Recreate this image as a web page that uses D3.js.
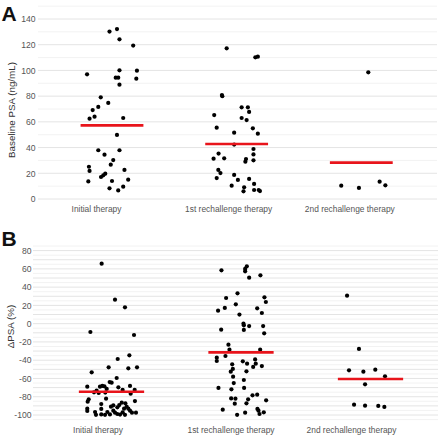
<!DOCTYPE html>
<html><head><meta charset="utf-8">
<script src="https://cdn.jsdelivr.net/npm/d3@7"></script>
<style>body{margin:0;background:#fff}svg{display:block;font-family:"Liberation Sans",Arial,Helvetica,sans-serif}</style>
</head><body><svg id="c" width="440" height="436"></svg>
<script>
// ---------- data ----------
const categories = ["Initial therapy", "1st rechallenge therapy", "2nd rechallenge therapy"];
const psaTicks = [0, 20, 40, 60, 80, 100, 120, 140];
const deltaTicks = [-100, -80, -60, -40, -20, 0, 20, 40, 60, 80];

// [value, horizontal jitter in category units]
const psaInitial = [[130.2,-0.02],[132.2,0.04],[124.2,0.06],[119.3,0.17],[97.0,-0.20],[100.1,0.06],[99.8,0.20],
  [94.4,0.03],[94.4,0.05],[93.6,0.195],[88.9,0.06],[79.1,-0.09],[74.7,-0.03],[71.6,-0.11],[69.2,-0.155],
  [64.0,-0.14],[62.5,-0.18],[63.0,0.09],[49.8,0.04],[37.9,-0.11],[34.5,-0.06],[37.9,0.06],[30.3,0.01],
  [26.7,-0.01],[25.1,-0.185],[21.8,-0.18],[22.6,0.10],[19.7,-0.054],[18.4,-0.07],[17.1,-0.088],
  [13.7,-0.19],[14.0,0.00],[15.0,0.13],[8.3,-0.02],[6.7,0.05],[9.6,0.09]];
const psaFirst = [[117.2,-0.08],[110.2,0.15],[110.7,0.17],[80.9,-0.118],[79.9,-0.115],[71.3,0.04],[71.3,0.09],
  [67.7,0.10],[65.3,-0.18],[63.0,0.04],[61.4,0.08],[55.5,-0.16],[55.0,0.13],[51.6,-0.02],[50.8,0.17],
  [42.3,-0.02],[38.9,0.135],[35.3,-0.145],[34.7,0.135],[31.4,-0.185],[31.6,-0.10],[31.1,0.075],[29.0,0.07],
  [30.1,0.135],[22.6,-0.147],[20.2,-0.13],[18.7,-0.02],[16.3,-0.16],[14.8,0.01],[15.6,0.10],[11.7,0.14],
  [10.4,-0.04],[9.1,0.06],[6.0,0.055],[7.0,0.14],[7.0,0.177],[6.2,0.187]];
const psaSecond = [[98.5,0.056],[10.4,-0.161],[8.6,-0.019],[13.5,0.147],[10.6,0.193]];
const psaMeans = [57.3, 42.8, 28.3];

const deltaInitial = [[65.7,-0.076],[26.3,0.027],[17.9,0.104],[-9.1,-0.163],[-12.4,0.174],[-34.7,0.138],
  [-38.7,0.048],[-47.8,-0.022],[-47.8,0.197],[-48.9,0.13],[-53.3,-0.153],[-59.5,0.04],[-63.9,-0.014],
  [-64.6,0.001],[-69.0,-0.187],[-69.0,-0.089],[-68.2,-0.071],[-68.6,-0.055],[-71.5,-0.037],[-69.7,0.053],
  [-68.2,0.143],[-72.6,0.086],[-72.6,0.179],[-73.4,-0.115],[-75.9,-0.099],[-75.5,-0.048],[-76.6,0.148],
  [-75.2,-0.135],[-82.1,-0.042],[-82.8,-0.176],[-85.4,-0.184],[-84.7,0.181],[-88.0,-0.079],[-86.5,0.079],
  [-89.1,0.06],[-91.6,0.045],[-90.9,-0.004],[-93.1,-0.187],[-95.6,-0.187],[-96.7,-0.127],[-99.8,-0.12],
  [-93.4,-0.079],[-99.4,-0.079],[-96.7,-0.032],[-99.4,-0.012],[-95.3,0.014],[-97.4,0.027],[-98.9,0.045],
  [-93.1,0.097],[-97.1,0.086],[-90.9,0.117],[-93.1,0.13],[-95.3,0.143],[-97.4,0.158],[-97.4,0.189],
  [-99.5,0.066],[-99.8,0.104],[-99.8,-0.05],[-89.4,0.014],[-87.2,0.107]];
const deltaFirst = [[58.4,-0.151],[62.8,0.045],[59.9,0.032],[57.3,0.032],[50.4,0.063],[52.9,0.15],[33.2,-0.027],
  [28.1,-0.115],[28.8,0.181],[23.7,0.192],[21.2,-0.04],[14.2,-0.177],[17.2,-0.125],[16.8,0.125],[11.7,0.161],
  [9.9,-0.012],[0.0,0.019],[-1.8,0.022],[-2.6,0.063],[-6.6,-0.153],[-6.9,0.022],[-2.6,0.171],[-10.6,0.179],
  [-23.0,-0.097],[-28.5,-0.089],[-28.5,0.148],[-35.4,-0.12],[-37.2,-0.187],[-40.9,-0.187],[-44.5,-0.068],
  [-41.2,0.014],[-43.8,0.047],[-39.1,0.109],[-43.8,0.114],[-47.4,0.094],[-46.4,0.161],[-49.6,-0.063],
  [-52.6,-0.079],[-52.2,0.042],[-58.0,-0.061],[-61.7,0.022],[-65.0,-0.056],[-70.4,-0.174],[-71.9,-0.074],
  [-70.4,0.024],[-78.5,0.089],[-77.7,0.125],[-81.8,-0.076],[-82.1,-0.043],[-82.8,0.055],[-87.6,-0.048],
  [-87.2,0.042],[-83.9,0.194],[-94.2,-0.141],[-99.8,-0.03],[-97.4,0.032],[-93.4,0.127],[-95.3,0.135],
  [-98.9,0.143],[-97.1,0.176]];
const deltaSecond = [[30.7,-0.181],[-27.7,-0.089],[-51.1,-0.166],[-52.6,-0.055],[-50.4,0.037],[-57.7,0.112],
  [-66.4,-0.042],[-88.7,-0.127],[-89.8,-0.042],[-90.1,0.06],[-91.2,0.107]];
const deltaMeans = [-74.5, -31.4, -60.6];

// ---------- drawing ----------
const svg = d3.select("#c");
const FONT = '"Liberation Sans",Arial,Helvetica,sans-serif';

function panel(cfg) {
  const g = svg.append("g");
  const x = d3.scaleLinear().domain([0.4, 3.6]).range(cfg.xRange);
  const y = d3.scaleLinear().domain(cfg.yDomain).range(cfg.yRange);

  // grid
  g.append("g").selectAll("line").data(cfg.grid).join("line")
    .attr("x1", cfg.gridX[0]).attr("x2", cfg.gridX[1])
    .attr("y1", d => y(d)).attr("y2", d => y(d))
    .attr("stroke", d => (d % cfg.majorStep === 0) ? "#e4e4e4" : "#efefef")
    .attr("stroke-width", d => (d % cfg.majorStep === 0) ? 1 : 0.8);

  // y axis labels
  const ax = g.append("g").attr("transform", `translate(${cfg.axisX},0)`)
    .call(d3.axisLeft(y).tickValues(cfg.ticks).tickSize(0).tickPadding(2).tickFormat(d3.format("d")));
  ax.select(".domain").remove();
  ax.selectAll("text").attr("font-size", 8.6).attr("fill", "#555").attr("font-family", FONT)
    .text(d => String(d).replace("-", "\u2212"));
  ax.selectAll("text").text(d => d < 0 ? "-" + Math.abs(d) : d);

  // y title
  g.append("text").attr("transform", `translate(${cfg.titleX},${cfg.titleY}) rotate(-90)`)
    .attr("text-anchor", "middle").attr("dominant-baseline", "central")
    .attr("font-size", 9.8).attr("fill", "#333").text(cfg.title);

  // x labels
  g.append("g").selectAll("text").data(categories).join("text")
    .attr("x", (d, i) => x(i + 1) + cfg.labelDx[i]).attr("y", cfg.labelY)
    .attr("text-anchor", "middle").attr("font-size", 8.4).attr("fill", "#555").text(d => d);

  // points
  cfg.groups.forEach((grp, i) => {
    g.append("g").selectAll("circle").data(grp).join("circle")
      .attr("cx", d => x(i + 1 + d[1])).attr("cy", d => y(d[0])).attr("r", 2.1).attr("fill", "#000");
  });

  // mean lines
  g.append("g").selectAll("line").data(cfg.means).join("line")
    .attr("x1", (d, i) => x(i + 1 - 0.252)).attr("x2", (d, i) => x(i + 1 + 0.252))
    .attr("y1", d => y(d)).attr("y2", d => y(d))
    .attr("stroke", "#e8141b").attr("stroke-width", 2.6);

  // panel letter
  g.append("text").attr("x", 1.5).attr("y", cfg.letterY).attr("font-size", 21).attr("font-weight", "bold")
    .attr("fill", "#111").text(cfg.letter);
}

panel({
  letter: "A", letterY: 20.5,
  xRange: [37.2, 436.1], yDomain: [0, 140], yRange: [199, 19],
  grid: d3.range(0, 151, 10), majorStep: 20, gridX: [38, 437],
  ticks: psaTicks, axisX: 37.5,
  title: "Baseline PSA (ng/mL)", titleX: 11.5, titleY: 110,
  labelDx: [-15.5, -8, -11.5], labelY: 211.5,
  groups: [psaInitial, psaFirst, psaSecond], means: psaMeans
});

panel({
  letter: "B", letterY: 245.5,
  xRange: [33.8, 448.2], yDomain: [-100, 80], yRange: [415, 250.6],
  grid: d3.range(-105, 86, 5), majorStep: 10, gridX: [33, 438],
  ticks: deltaTicks, axisX: 33.5,
  title: "\u0394PSA (%)", titleX: 10.5, titleY: 326.5,
  labelDx: [-13.5, -10, -19], labelY: 433,
  groups: [deltaInitial, deltaFirst, deltaSecond], means: deltaMeans
});
</script></body></html>
